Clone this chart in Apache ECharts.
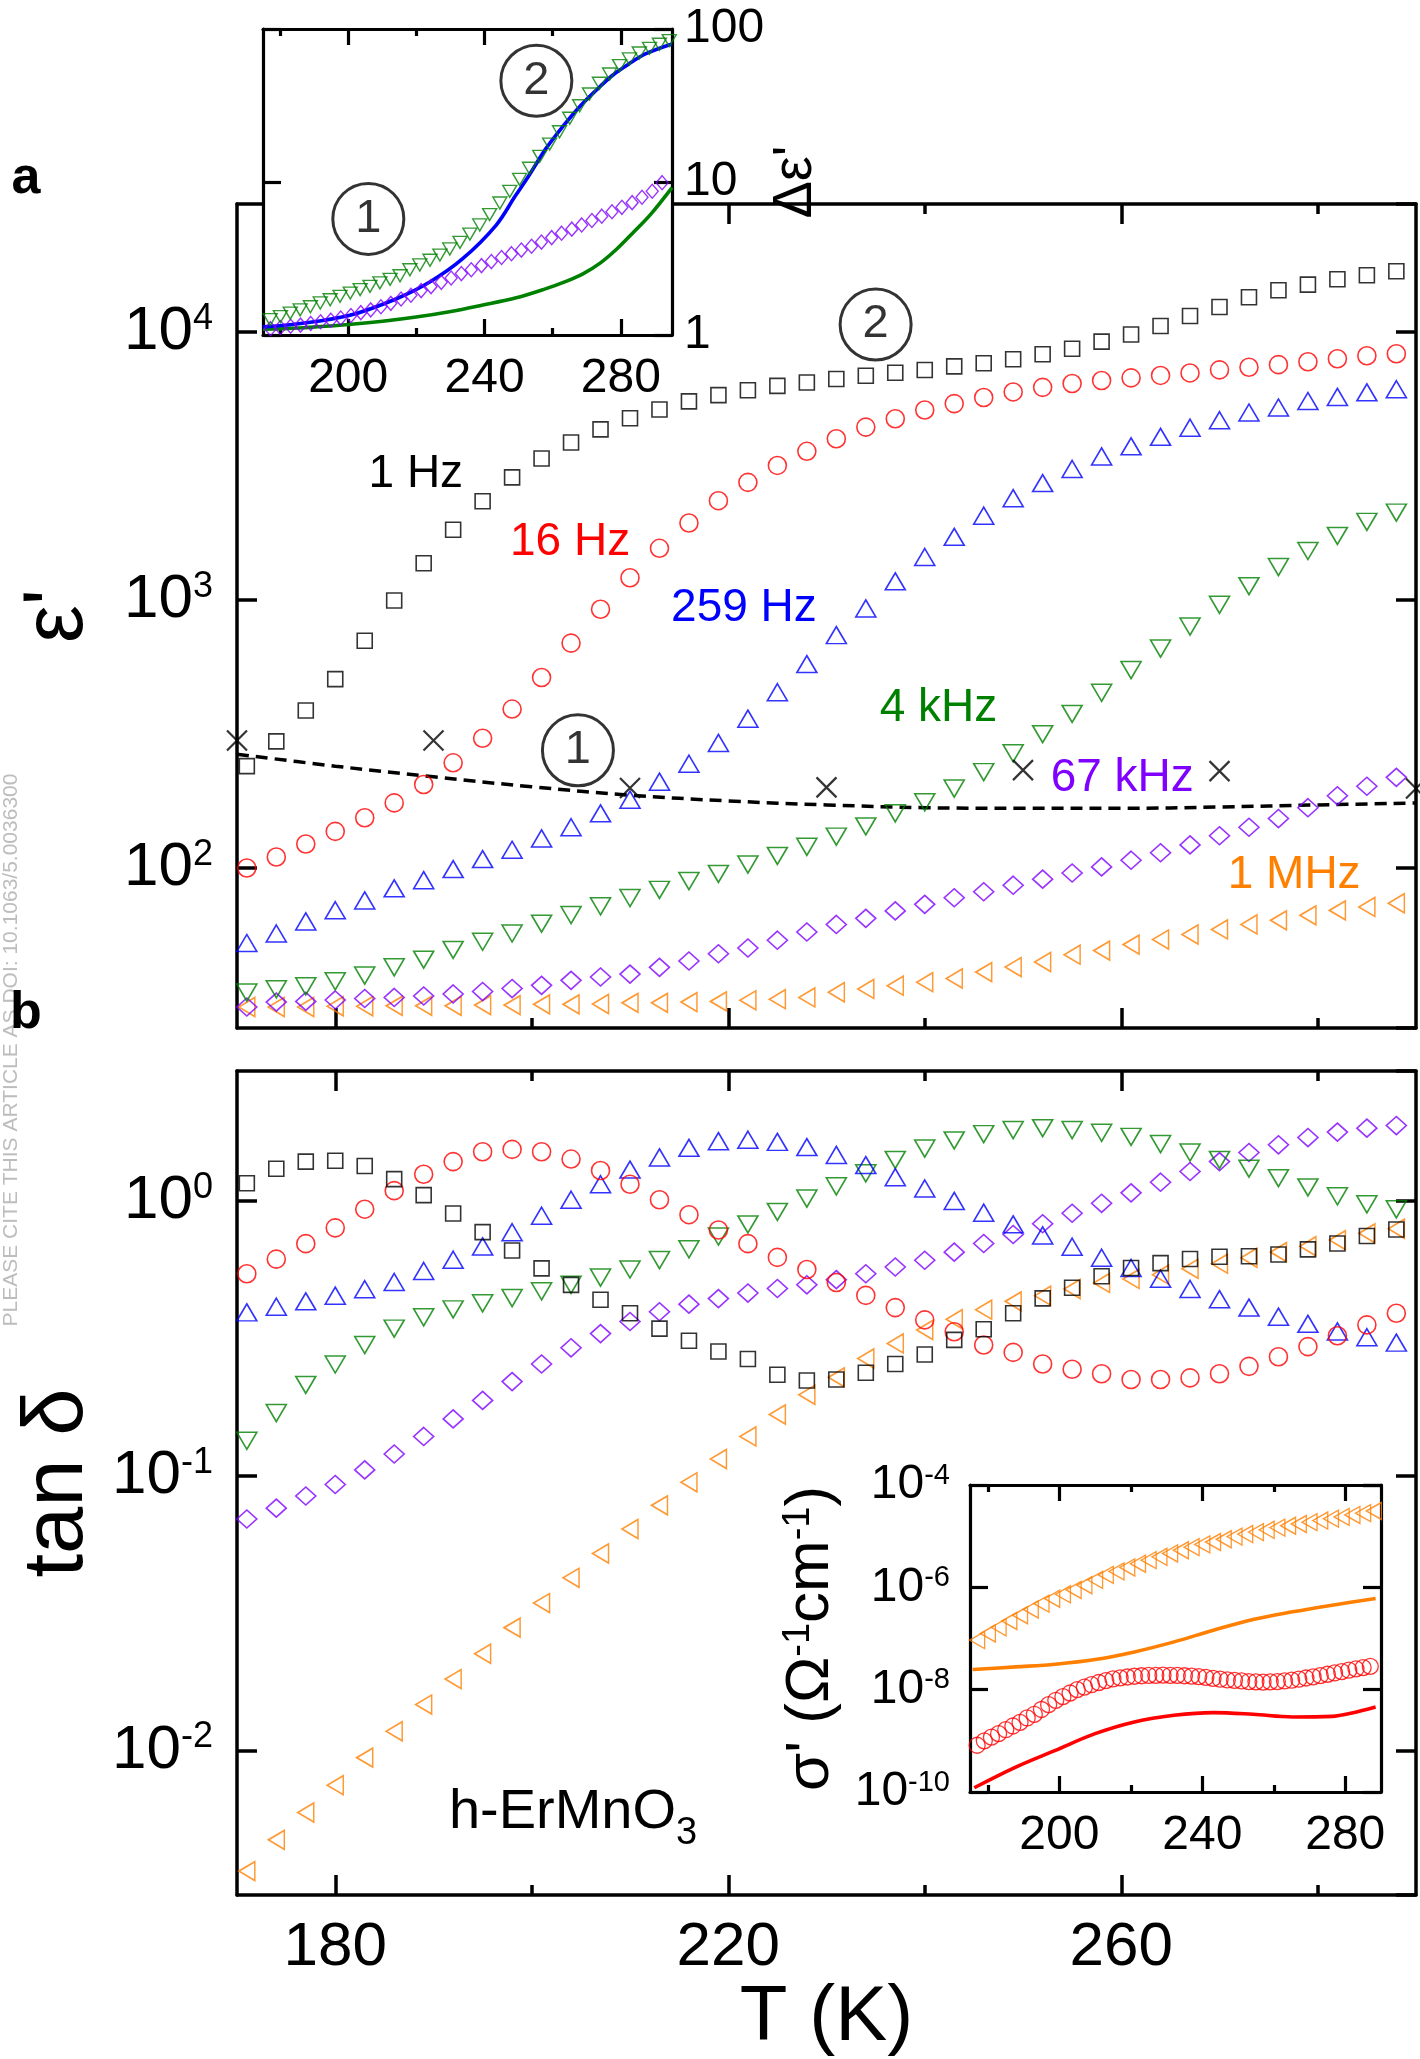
<!DOCTYPE html>
<html><head><meta charset="utf-8">
<script src="https://cdn.jsdelivr.net/npm/echarts@6/dist/echarts.min.js"></script>
<style>html,body{margin:0;padding:0;background:#fff}#c{width:1420px;height:2059px}</style>
</head><body><div id="c"></div>
<script>
// ---------------- DATA ----------------
const T_MAIN = [171,174,177,180,183,186,189,192,195,198,201,204,207,210,213,216,219,222,225,228,231,234,237,240,243,246,249,252,255,258,261,264,267,270,273,276,279,282,285,288];

// panel a: epsilon'
const EPS_1HZ   = [240,297,387,507,705,996,1372,1829,2339,2870,3377,3873,4334,4769,5140,5512,5820,6068,6298,6486,6680,6870,7050,7220,7450,7650,7920,8270,8670,9210,9790,10540,11490,12410,13490,14330,15030,15740,16300,16870];
const EPS_16HZ  = [100,110,123,137,154,175,205,247,305,392,514,691,924,1211,1560,1939,2349,2750,3180,3590,4000,4420,4750,5120,5410,5700,5980,6220,6430,6600,6750,6890,7040,7230,7390,7560,7750,7950,8160,8300];
const EPS_259HZ = [52.5,57.0,63.2,69.6,75.7,84.0,90.1,99.1,108,117,129,142,160,180,210,245,293,361,453,577,740,931,1175,1448,1722,2065,2400,2733,3085,3436,3748,4067,4396,4690,5010,5230,5530,5730,5960,6120];
const EPS_4KHZ  = [34.3,35.3,36.2,37.8,39.7,42.6,45.5,49.5,53.1,57.0,62.0,66.8,72.0,77.3,82.9,89.4,95.1,103,111,120,131,143,160,176,198,228,268,316,376,451,548,659,797,960,1127,1328,1525,1735,1958,2120];
const EPS_67KHZ = [30.3,31.6,31.8,32.2,32.6,32.9,33.3,33.9,34.6,35.5,36.5,38.1,39.2,40.2,42.6,45.0,47.9,50.3,53.8,57.7,61.6,64.9,69.2,73.2,77.5,81.6,86.3,90.9,95.8,101,107,114,122,132,142,153,168,186,202,218];
const EPS_1MHZ  = [30.3,30.3,30.3,30.5,30.5,30.6,30.6,30.6,30.8,30.8,31.0,31.0,31.1,31.4,31.4,31.6,31.8,32.1,32.4,32.9,34.4,35.4,36.4,37.5,38.7,40.9,42.7,44.6,47.5,49.2,51.8,54.1,56.5,59.0,61.6,63.8,66.6,69.5,71.6,73.9];

const T_CROSS = [170,190,210,230,250,270,290];
const EPS_CROSS = [299,299,199,200,232,230,198];
const T_DASH = [170,180,190,200,210,220,230,240,250,260,270,280,290];
const EPS_DASH = [266,240,219,201,187,178,172,168,167,167,169,172,175];

// panel b: tan delta
const TAN_1HZ   = [1.16,1.31,1.39,1.40,1.34,1.20,1.05,0.90,0.77,0.66,0.568,0.495,0.437,0.390,0.343,0.310,0.283,0.266,0.233,0.222,0.224,0.237,0.255,0.276,0.312,0.341,0.390,0.442,0.483,0.532,0.570,0.594,0.615,0.626,0.629,0.638,0.666,0.700,0.745,0.787];
const TAN_16HZ  = [0.543,0.614,0.699,0.798,0.933,1.09,1.25,1.39,1.51,1.54,1.51,1.42,1.29,1.15,1.01,0.891,0.784,0.699,0.623,0.563,0.505,0.453,0.409,0.369,0.334,0.299,0.281,0.255,0.244,0.235,0.224,0.224,0.227,0.235,0.250,0.271,0.295,0.323,0.354,0.39];
const TAN_259HZ = [0.393,0.412,0.431,0.452,0.477,0.507,0.556,0.611,0.683,0.769,0.883,1.01,1.15,1.30,1.44,1.56,1.65,1.67,1.64,1.57,1.47,1.35,1.22,1.11,1.00,0.906,0.822,0.749,0.681,0.621,0.570,0.521,0.478,0.439,0.409,0.379,0.357,0.335,0.319,0.305];
const TAN_4KHZ  = [0.134,0.169,0.214,0.254,0.299,0.343,0.377,0.403,0.424,0.443,0.469,0.495,0.526,0.563,0.609,0.667,0.742,0.821,0.912,1.02,1.13,1.26,1.41,1.55,1.66,1.75,1.81,1.84,1.81,1.77,1.71,1.61,1.50,1.41,1.31,1.21,1.12,1.04,0.972,0.932];
const TAN_67KHZ = [0.0696,0.0762,0.0844,0.0929,0.105,0.120,0.139,0.161,0.188,0.220,0.255,0.292,0.329,0.364,0.395,0.421,0.441,0.462,0.480,0.495,0.517,0.543,0.575,0.608,0.651,0.700,0.755,0.826,0.902,0.980,1.07,1.17,1.28,1.39,1.50,1.60,1.70,1.78,1.84,1.88];
const TAN_1MHZ  = [0.00364,0.00473,0.00595,0.00748,0.00942,0.01175,0.0147,0.0182,0.0225,0.0280,0.0344,0.0425,0.0521,0.0640,0.0780,0.0946,0.115,0.139,0.167,0.197,0.228,0.267,0.303,0.339,0.371,0.402,0.431,0.452,0.478,0.503,0.520,0.539,0.566,0.591,0.621,0.651,0.684,0.720,0.762,0.792];

// inset a: delta epsilon'
const T_INSA_TRI = [177.1,180.1,183.0,185.9,188.9,191.8,194.7,197.6,200.6,203.5,206.4,209.3,212.3,215.2,218.1,221.0,224.0,226.9,229.8,232.8,235.7,238.6,241.5,244.5,247.4,250.3,253.2,256.2,259.1,262.0,265.0,267.9,270.8,273.7,276.7,279.6,282.5,285.4,288.4,291.3,294.2];
const DEPS_TRI = [1.26,1.32,1.39,1.46,1.53,1.62,1.70,1.79,1.88,1.98,2.08,2.19,2.31,2.44,2.67,2.87,3.08,3.33,3.65,4.03,4.57,5.24,6.12,7.29,8.69,10.4,12.3,14.7,17.7,21.3,26.1,31.5,37.6,44.2,50.8,57.6,63.7,69.7,74.8,79.5,84];
const T_INSA_DIA = [177.2,180.1,183.1,186.0,189.0,191.9,194.9,197.8,200.8,203.7,206.6,209.6,212.5,215.5,218.4,221.4,224.3,227.3,230.2,233.2,236.1,239.1,242.0,245.0,247.9,250.8,253.8,256.7,259.7,262.6,265.6,268.5,271.5,274.4,277.4,280.3,283.3,286.2,289.2,292.1];
const DEPS_DIA = [1.10,1.12,1.14,1.16,1.19,1.22,1.25,1.29,1.34,1.40,1.46,1.53,1.61,1.72,1.82,1.95,2.07,2.21,2.36,2.52,2.67,2.84,3.02,3.21,3.40,3.59,3.80,4.05,4.33,4.63,4.92,5.24,5.60,5.98,6.39,6.83,7.33,7.95,8.70,9.90];
const T_INSA_BLUE = [175,184.8,200.2,214,223.8,233.5,243.3,249.1,253,257.9,262.8,267.7,272.6,277.4,282.3,287.2,295];
const DEPS_BLUE = [1.13,1.18,1.34,1.72,2.21,3.14,5.19,8.15,11.0,16.4,22.8,30.7,39.5,49.5,59.0,68.7,79.8];
const T_INSA_GREEN = [175,185.6,200,210.1,219.9,229.7,239.5,249.3,257.2,264.1,269,273.9,278.8,283.7,288.6,295];
const DEPS_GREEN = [1.09,1.11,1.17,1.23,1.31,1.42,1.57,1.75,1.98,2.25,2.52,2.95,3.65,4.70,6.10,9.2];

// inset b: sigma'
const T_INSB_TRI = [177,180,183,186,189,192,195,198,201,204,207,210,213,216,219,222,225,228,231,234,237,240,243,246,249,252,255,258,261,264,267,270,273,276,279,282,285,288];
const SIG_TRI = [9.3e-8,1.25e-7,1.65e-7,2.2e-7,2.85e-7,3.7e-7,4.8e-7,6.0e-7,7.3e-7,8.9e-7,1.1e-6,1.4e-6,1.75e-6,2.05e-6,2.45e-6,2.9e-6,3.4e-6,3.95e-6,4.6e-6,5.3e-6,6.1e-6,6.9e-6,7.7e-6,8.7e-6,9.8e-6,1.1e-5,1.2e-5,1.33e-5,1.47e-5,1.6e-5,1.73e-5,1.88e-5,2.02e-5,2.2e-5,2.38e-5,2.6e-5,2.82e-5,3.1e-5];
const T_INSB_CIR = [177,179,181,183,185,187,189,191,193,195,197,199,201,203,205,207,209,211,213,215,217,219,221,223,225,227,229,231,233,235,237,239,241,243,245,247,249,251,253,255,257,259,261,263,265,267,269,271,273,275,277,279,281,283,285,287];
const SIG_CIR = [8.2e-10,1.0e-9,1.18e-9,1.38e-9,1.65e-9,1.95e-9,2.3e-9,2.8e-9,3.3e-9,4.1e-9,5.1e-9,6.2e-9,7.3e-9,8.6e-9,1.0e-8,1.12e-8,1.25e-8,1.38e-8,1.5e-8,1.62e-8,1.7e-8,1.77e-8,1.83e-8,1.87e-8,1.9e-8,1.91e-8,1.92e-8,1.91e-8,1.9e-8,1.87e-8,1.84e-8,1.8e-8,1.74e-8,1.66e-8,1.6e-8,1.55e-8,1.52e-8,1.48e-8,1.44e-8,1.42e-8,1.41e-8,1.42e-8,1.44e-8,1.48e-8,1.53e-8,1.6e-8,1.69e-8,1.78e-8,1.88e-8,2.0e-8,2.12e-8,2.25e-8,2.4e-8,2.55e-8,2.7e-8,2.85e-8];
const T_INSB_OLINE = [175.7,187.8,198.9,210,221,232.1,243.1,254.2,265.3,276.3,288.5];
const SIG_OLINE = [2.47e-8,2.79e-8,3.14e-8,3.87e-8,5.47e-8,8.59e-8,1.45e-7,2.35e-7,3.32e-7,4.48e-7,6.05e-7];
const T_INSB_RLINE = [176.2,187.8,198.9,210,221,232.1,243.1,254.2,265.3,276.3,281.9,288.5];
const SIG_RLINE = [1.21e-10,3.07e-10,6.52e-10,1.38e-9,2.34e-9,3.15e-9,3.56e-9,3.30e-9,2.93e-9,3.01e-9,3.51e-9,4.59e-9];

// tick values
const X_MAJOR = [180,220,260], X_MINOR = [200,240,280];
const XI_MAJOR = [200,240,280], XI_MINOR = [180,220,260];

// text annotations (label, x, y)
const LABELS_A = [['1 Hz',188.2,2939,'k'],['16 Hz',203.9,1649,'r'],['259 Hz',221.6,928,'b'],['4 kHz',241.4,396,'g'],['67 kHz',260.1,216,'p'],['1 MHz',277.6,93.8,'o']];
const CIRCLES_A = [['1',204.7,275],['2',235.0,10670]];
const CIRCLES_INSA = [['1',205.9,5.74],['2',255.2,45.9]];
const SAMPLE_LABEL = [204.2,0.00594];

// ---------------- STYLE ----------------
const FONT = "'Liberation Sans', Arial, Helvetica, sans-serif";
const COL = {k:'#000000', r:'#ff0000', b:'#0000ff', g:'#008000', p:'#8000ff', o:'#ff8000'};
const zip = (xs, ys) => xs.map((x, i) => [x, ys[i]]);

const xAxis = [], yAxis = [];
function axBase(kind, g, pos, min, max, lw, zl) {
  return {type: kind, gridIndex: g, position: pos, min: min, max: max, zlevel: zl, z: 3, offset: 0,
    axisLine: {show: true, onZero: false, lineStyle: {color: '#000', width: lw}},
    splitLine: {show: false}, minorTick: {show: false}, minorSplitLine: {show: false}};
}
function addXSet(g, min, max, majors, minors, lmaj, lmin, lw, zl, label, nameOpt) {
  const first = xAxis.length;
  ['bottom', 'top'].forEach((pos, pi) => {
    [[majors, lmaj], [minors, lmin]].forEach((pair, mi) => {
      const a = axBase('value', g, pos, min, max, lw, zl);
      a.axisTick = {show: true, inside: true, length: pair[1], customValues: pair[0], lineStyle: {color: '#000', width: lw}};
      if (pi === 0 && mi === 0 && label) {
        a.axisLabel = Object.assign({show: true, customValues: majors}, label);
        if (nameOpt) Object.assign(a, nameOpt);
      } else a.axisLabel = {show: false};
      if (mi === 1) a.axisLine.show = false;
      xAxis.push(a);
    });
  });
  return first;
}
function addYSet(g, min, max, lw, zl, tickLen, labelSide, label, nameOpt, interval) {
  const first = yAxis.length;
  ['left', 'right'].forEach(pos => {
    const a = axBase('log', g, pos, min, max, lw, zl);
    a.logBase = 10;
    if (interval) a.interval = interval;
    a.axisTick = {show: true, inside: true, length: tickLen, lineStyle: {color: '#000', width: lw}};
    if (pos === labelSide && label) {
      a.axisLabel = Object.assign({show: true}, label);
      if (nameOpt) Object.assign(a, nameOpt);
    } else a.axisLabel = {show: false};
    yAxis.push(a);
  });
  return first;
}
function powFmt(v) {
  const e = Math.log10(v), r = Math.round(e);
  if (Math.abs(e - r) > 1e-6) return '';
  return '{m|10}{s|' + r + '}';
}
function supRich(m, s, sl) {
  return {m: {fontSize: m, lineHeight: m, fontFamily: FONT, color: '#000'},
          s: {fontSize: s, lineHeight: sl, verticalAlign: 'top', fontFamily: FONT, color: '#000'}};
}

const grids = [
  {left: 237, top: 204, width: 1179, height: 824, show: false},
  {left: 237, top: 1071, width: 1179, height: 824, show: false},
  {left: 263, top: 29, width: 409, height: 306, show: true, backgroundColor: '#ffffff', borderWidth: 0, zlevel: 1},
  {left: 970, top: 1485, width: 411, height: 307, show: true, backgroundColor: '#ffffff', borderWidth: 0, zlevel: 1}
];

// panel a
const xa = addXSet(0, 170, 290, X_MAJOR, X_MINOR, 20, 10, 3.5, 0, null, null);
const ya = addYSet(0, 25.3, 30060, 3.5, 0, 20, 'left',
  {formatter: powFmt, margin: 24, rich: supRich(62, 36, 40), showMinLabel: false, showMaxLabel: false},
  {name: "ε'", nameLocation: 'middle', nameGap: 136, nameRotate: 90,
   nameTextStyle: {fontSize: 85, fontFamily: FONT, color: '#000'}});
// panel b
const xb = addXSet(1, 170, 290, X_MAJOR, X_MINOR, 20, 10, 3.5, 0,
  {fontSize: 62, fontFamily: FONT, color: '#000', margin: 22},
  {name: 'T (K)', nameLocation: 'middle', nameGap: 82, nameTextStyle: {fontSize: 78, fontFamily: FONT, color: '#000'}});
const yb = addYSet(1, 0.00298, 2.97, 3.5, 0, 20, 'left',
  {formatter: powFmt, margin: 24, rich: supRich(62, 36, 40), showMinLabel: false, showMaxLabel: false},
  {name: 'tan δ', nameLocation: 'middle', nameGap: 136, nameRotate: 90,
   nameTextStyle: {fontSize: 85, fontFamily: FONT, color: '#000'}});
// inset a
const xia = addXSet(2, 175, 295, XI_MAJOR, XI_MINOR, 16, 7, 3.2, 1,
  {fontSize: 48, fontFamily: FONT, color: '#000', margin: 20}, null);
const yia = addYSet(2, 1, 100, 3.2, 1, 18, 'right',
  {fontSize: 48, fontFamily: FONT, color: '#000', margin: 12,
   formatter: v => { const e = Math.log10(v); return Math.abs(e - Math.round(e)) < 1e-6 ? String(Math.round(v)) : ''; }},
  {name: "Δε'", nameLocation: 'middle', nameGap: 96, nameRotate: 90,
   nameTextStyle: {fontSize: 56, fontFamily: FONT, color: '#000'}});
// inset b
const xib = addXSet(3, 175, 290, XI_MAJOR, XI_MINOR, 16, 7, 3.2, 1,
  {fontSize: 48, fontFamily: FONT, color: '#000', margin: 20}, null);
const yib = addYSet(3, 1e-10, 1e-4, 3.2, 1, 18, 'left',
  {formatter: powFmt, margin: 20, rich: supRich(48, 29, 32)},
  {name: "{m|σ' (Ω}{s|-1}{m|cm}{s|-1}{m|)}", nameLocation: 'middle', nameGap: 128, nameRotate: 90,
   nameTextStyle: {fontFamily: FONT, color: '#000', rich: supRich(62, 38, 40)}}, 2);

function hollow(data, sym, size, rot, color, xi, yi, bw, zl) {
  return {type: 'scatter', data: data, symbol: sym, symbolSize: size, symbolRotate: rot,
    xAxisIndex: xi, yAxisIndex: yi, zlevel: zl || 0, z: 4, silent: true,
    itemStyle: {color: 'rgba(255,255,255,0)', borderColor: color, borderWidth: bw}};
}
function lineS(data, color, w, xi, yi, zl, dash) {
  return {type: 'line', data: data, showSymbol: false, symbol: 'none', smooth: 0.35, xAxisIndex: xi, yAxisIndex: yi,
    zlevel: zl || 0, z: 3, silent: true, lineStyle: {color: color, width: w, type: dash || 'solid'}};
}
function note(text, pt, color, size, xi, yi, zl, rich) {
  return {type: 'scatter', data: [pt], symbol: 'circle', symbolSize: 1, xAxisIndex: xi, yAxisIndex: yi,
    zlevel: zl || 0, z: 6, silent: true, itemStyle: {color: 'rgba(0,0,0,0)'},
    label: {show: true, position: 'inside', formatter: text, color: color, fontSize: size, fontFamily: FONT,
            textBorderWidth: 0, opacity: 1, rich: rich}};
}
function circled(c, xi, yi, zl) {
  return {type: 'scatter', data: [[c[1], c[2]]], symbol: 'circle', symbolSize: 71, xAxisIndex: xi, yAxisIndex: yi,
    zlevel: zl || 0, z: 6, silent: true,
    itemStyle: {color: 'rgba(255,255,255,0)', borderColor: '#000', borderWidth: 3},
    label: {show: true, position: 'inside', formatter: c[0], color: '#000', fontSize: 47, fontFamily: FONT, textBorderWidth: 0}};
}

const SQ = ['rect', [15, 15], 0], CI = ['circle', 18, 0], UP = ['triangle', [20, 17], 0],
      DN = ['triangle', [20, 17], 180], DI = ['diamond', [20, 18], 0], LT = ['triangle', [19, 16], 90];
const mk = (data, s, c, xi, yi) => hollow(data, s[0], s[1], s[2], c, xi, yi, 1.6, 0);

const series = [
  lineS(zip(T_DASH, EPS_DASH), '#000', 3.5, xa, ya, 0, [12, 7]),
  mk(zip(T_MAIN, EPS_1MHZ), LT, COL.o, xa, ya),
  mk(zip(T_MAIN, EPS_67KHZ), DI, COL.p, xa, ya),
  mk(zip(T_MAIN, EPS_4KHZ), DN, COL.g, xa, ya),
  mk(zip(T_MAIN, EPS_259HZ), UP, COL.b, xa, ya),
  mk(zip(T_MAIN, EPS_16HZ), CI, COL.r, xa, ya),
  mk(zip(T_MAIN, EPS_1HZ), SQ, COL.k, xa, ya),
  hollow(zip(T_CROSS, EPS_CROSS), 'path://M0,0L20,20M20,0L0,20', [20, 20], 0, '#000', xa, ya, 2.2, 0),

  mk(zip(T_MAIN, TAN_1MHZ), LT, COL.o, xb, yb),
  mk(zip(T_MAIN, TAN_67KHZ), DI, COL.p, xb, yb),
  mk(zip(T_MAIN, TAN_4KHZ), DN, COL.g, xb, yb),
  mk(zip(T_MAIN, TAN_259HZ), UP, COL.b, xb, yb),
  mk(zip(T_MAIN, TAN_16HZ), CI, COL.r, xb, yb),
  mk(zip(T_MAIN, TAN_1HZ), SQ, COL.k, xb, yb),

  hollow(zip(T_INSA_DIA, DEPS_DIA), 'diamond', [12, 14], 0, COL.p, xia, yia, 1.4, 1),
  hollow(zip(T_INSA_TRI, DEPS_TRI), 'triangle', [14, 12], 180, COL.g, xia, yia, 1.4, 1),
  lineS(zip(T_INSA_GREEN, DEPS_GREEN), COL.g, 3.6, xia, yia, 1),
  lineS(zip(T_INSA_BLUE, DEPS_BLUE), COL.b, 3.6, xia, yia, 1),

  hollow(zip(T_INSB_TRI, SIG_TRI), 'triangle', [17, 15], 90, COL.o, xib, yib, 1.4, 1),
  hollow(zip(T_INSB_CIR, SIG_CIR), 'circle', 16, 0, COL.r, xib, yib, 1.3, 1),
  lineS(zip(T_INSB_OLINE, SIG_OLINE), COL.o, 3.6, xib, yib, 1),
  lineS(zip(T_INSB_RLINE, SIG_RLINE), COL.r, 3.6, xib, yib, 1)
];
LABELS_A.forEach(l => series.push(note(l[0], [l[1], l[2]], COL[l[3]], 46, xa, ya, 0)));
CIRCLES_A.forEach(c => series.push(circled(c, xa, ya, 0)));
CIRCLES_INSA.forEach(c => series.push(circled(c, xia, yia, 1)));
series.push(note('{m|h-ErMnO}{s|3}', SAMPLE_LABEL, '#000', 56, xb, yb, 0,
  {m: {fontSize: 56, lineHeight: 56, verticalAlign: 'top', fontFamily: FONT, color: '#000'},
   s: {fontSize: 38, lineHeight: 38, verticalAlign: 'top', padding: [30, 0, 0, 0], fontFamily: FONT, color: '#000'}}));

const chart = echarts.init(document.getElementById('c'), null, {renderer: 'canvas'});
chart.setOption({
  animation: false,
  backgroundColor: '#ffffff',
  textStyle: {fontFamily: FONT},
  grid: grids,
  xAxis: xAxis,
  yAxis: yAxis,
  series: series,
  graphic: [
    {type: 'text', x: 11, y: 1050, rotation: Math.PI / 2, silent: true,
     style: {text: 'PLEASE CITE THIS ARTICLE AS DOI: 10.1063/5.0036300', fontSize: 21, fontFamily: FONT,
             fill: '#bdbdbd', align: 'center', verticalAlign: 'middle'}},
    {type: 'text', x: 26, y: 179, silent: true,
     style: {text: 'a', fontSize: 52, fontWeight: 'bold', fontFamily: FONT, fill: '#000', align: 'center', verticalAlign: 'middle'}},
    {type: 'text', x: 26, y: 1014, silent: true,
     style: {text: 'b', fontSize: 52, fontWeight: 'bold', fontFamily: FONT, fill: '#000', align: 'center', verticalAlign: 'middle'}}
  ]
});
</script>
</body></html>
